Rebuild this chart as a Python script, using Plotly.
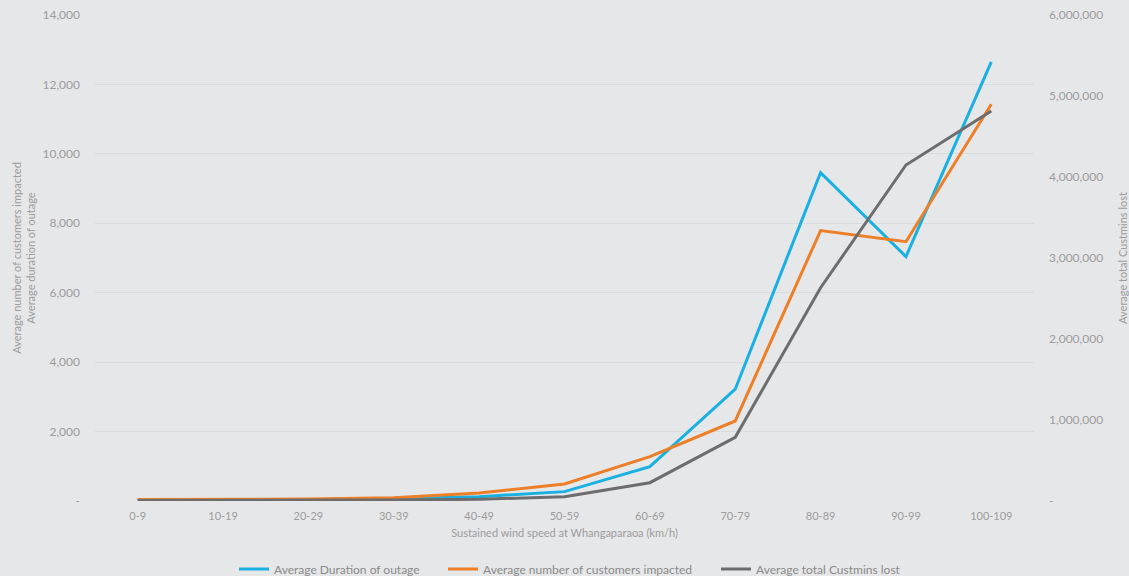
import plotly.graph_objects as go

categories = ["0-9", "10-19", "20-29", "30-39", "40-49", "50-59",
              "60-69", "70-79", "80-89", "90-99", "100-109"]
duration = [20, 25, 35, 70, 125, 270, 990, 3220, 9460, 7040, 12650]
customers = [40, 45, 60, 95, 230, 490, 1280, 2305, 7790, 7470, 11430]
custmins = [5000, 6000, 8000, 12000, 21000, 53000, 226000, 786000,
            2633000, 4148000, 4815000]

left_ticks = [0, 2000, 4000, 6000, 8000, 10000, 12000, 14000]
left_labels = ["-", "2,000", "4,000", "6,000", "8,000", "10,000", "12,000", "14,000"]
right_ticks = [0, 1000000, 2000000, 3000000, 4000000, 5000000, 6000000]
right_labels = ["-", "1,000,000", "2,000,000", "3,000,000", "4,000,000",
                "5,000,000", "6,000,000"]

BG = "#E6E7E9"
TXT = "#9C9C9C"
FONT = "Lato"

fig = go.Figure()
fig.add_trace(go.Scatter(x=categories, y=duration, mode="lines",
                         name="Average Duration of outage", legend="legend",
                         line=dict(color="#1AB0E2", width=3)))
fig.add_trace(go.Scatter(x=categories, y=customers, mode="lines",
                         name="Average number of customers impacted",
                         legend="legend2",
                         line=dict(color="#EC7F27", width=3)))
fig.add_trace(go.Scatter(x=categories, y=custmins, mode="lines",
                         name="Average total Custmins lost", yaxis="y2",
                         legend="legend3",
                         line=dict(color="#6D6D6D", width=3)))


def leg(xpx):
    return dict(orientation="h", xref="container", x=xpx / 1129,
                xanchor="left",
                yref="container", y=0.012, yanchor="middle",
                font=dict(size=12, color="#8A8A8A"), borderwidth=0,
                bgcolor="rgba(0,0,0,0)", itemwidth=30)


fig.update_layout(
    width=1129, height=576,
    paper_bgcolor=BG, plot_bgcolor=BG,
    margin=dict(l=95, r=95, t=15, b=75, autoexpand=False),
    font=dict(family=FONT, color=TXT, size=11),
    showlegend=True,
    legend=leg(234), legend2=leg(443), legend3=leg(716),
    xaxis=dict(type="category", range=[-0.5, 10.5], showgrid=False,
               zeroline=False, automargin=False,
               showline=False, ticks="", tickfont=dict(size=11, color=TXT),
               ticklabelstandoff=7,
               title=dict(text="Sustained wind speed at Whangaparaoa (km/h)",
                          font=dict(size=11, color=TXT), standoff=8)),
    yaxis=dict(range=[0, 14000], tickvals=left_ticks, ticktext=left_labels,
               showgrid=True, gridcolor="#DADBDD", gridwidth=1,
               zeroline=False, showline=False, ticks="", automargin=False,
               tickfont=dict(size=12, color=TXT), ticklabelstandoff=14,
               title=dict(text="Average number of customers impacted<br>Average duration of outage",
                          font=dict(size=11, color=TXT), standoff=4)),
    yaxis2=dict(range=[0, 6000000], tickvals=right_ticks, ticktext=right_labels,
                overlaying="y", side="right", showgrid=False, zeroline=False,
                showline=False, ticks="", automargin=False,
                tickfont=dict(size=12, color=TXT), ticklabelstandoff=14,
                title=dict(text="Average total Custmins lost",
                           font=dict(size=11, color=TXT), standoff=20)),
)

fig.write_html("out.html", config={"displayModeBar": False},
               post_script="document.body.style.margin='0';")
